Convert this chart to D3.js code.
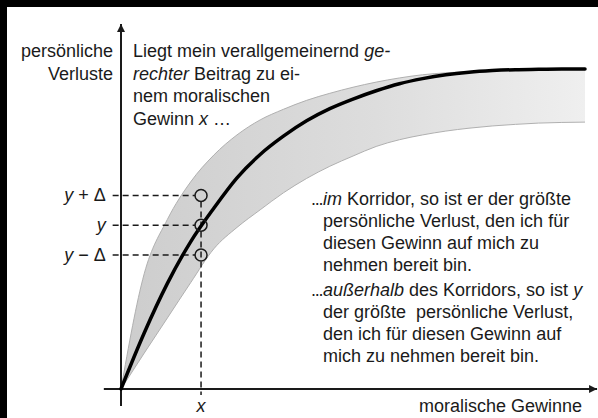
<!DOCTYPE html>
<html><head><meta charset="utf-8">
<script src="https://cdn.jsdelivr.net/npm/d3@7"></script>
<style>
html,body{margin:0;padding:0;background:#fff;}
svg{display:block;}
text{font-family:"Liberation Sans",Arial,Helvetica,sans-serif;fill:#1a1a1a;white-space:pre;}
</style></head>
<body>
<script>
// ---- data (abstract units) ----
const gains   = [0,0.5,1,1.5,2,2.5,3,3.5,4,4.5,5,5.5,6,6.5,7,7.5,8,8.5,9,9.5,10];
const centre  = [0,1.75,3.3,4.6,5.65,6.6,7.33,7.9,8.38,8.76,9.06,9.32,9.54,9.7,9.82,9.9,9.95,9.98,9.99,10,10];
const upperB  = [0,3.6,5.3,6.47,7.31,7.94,8.41,8.74,9.02,9.24,9.43,9.59,9.72,9.82,9.88,9.92,9.96,9.98,9.99,10,10];
const lowerB  = [0,1.12,2.22,3.32,4.38,5.05,5.6,6.13,6.58,6.96,7.28,7.58,7.79,7.94,8.06,8.15,8.22,8.27,8.31,8.33,8.34];
const markerX = 1.725;
const markerY = [6.05, 5.12, 4.19];
const markerLabels = [["y"," + Δ"],["y",""],["y"," − Δ"]];
const xAxisExtent = [-0.37, 10.26];
const yAxisExtent = [-0.53, 11.41];
const yAxisTitle = ["persönliche","Verluste"];
const xAxisTitle = "moralische Gewinne";
const introText = [
  [["Liegt mein verallgemeinernd ",false],["ge-",true]],
  [["rechter",true],[" Beitrag zu ei-",false]],
  [["nem moralischen",false]],
  [["Gewinn ",false],["x",true],[" …",false]]
];
const blockIn = [
  [["im",true],[" Korridor, so ist er der größte",false]],
  [["persönliche Verlust, den ich für",false]],
  [["diesen Gewinn auf mich zu",false]],
  [["nehmen bereit bin.",false]]
];
const blockOut = [
  [["außerhalb",true],[" des Korridors, so ist ",false],["y",true]],
  [["der größte  persönliche Verlust,",false]],
  [["den ich für diesen Gewinn auf",false]],
  [["mich zu nehmen bereit bin.",false]]
];

const W = 598, H = 418;
const svg = d3.select("body").append("svg").attr("width",W).attr("height",H);

// frame (top / left black edges)
svg.append("rect").attr("x",0).attr("y",0).attr("width",W).attr("height",7).attr("fill","#000");
svg.append("rect").attr("x",0).attr("y",0).attr("width",7).attr("height",H).attr("fill","#000");

const x = d3.scaleLinear().domain([0,10]).range([121,585]);
const y = d3.scaleLinear().domain([0,10]).range([389,69]);

const defs = svg.append("defs");
const grad = defs.append("linearGradient").attr("id","bandGrad")
  .attr("gradientUnits","userSpaceOnUse").attr("x1",x(0)).attr("x2",x(10)).attr("y1",0).attr("y2",0);
grad.append("stop").attr("offset","0%").attr("stop-color","#cdcdcd");
grad.append("stop").attr("offset","55%").attr("stop-color","#dddddd");
grad.append("stop").attr("offset","100%").attr("stop-color","#efefef");
defs.append("marker").attr("id","arrow").attr("viewBox","0 0 10 10").attr("refX",10).attr("refY",5)
  .attr("markerWidth",10).attr("markerHeight",8).attr("markerUnits","userSpaceOnUse").attr("orient","auto")
  .append("path").attr("d","M0,0L10,5L0,10Z").attr("fill","#1a1a1a");

const pts = gains.map((g,i)=>({g, c:centre[i], u:upperB[i], l:lowerB[i]}));

// corridor band
svg.append("path").datum(pts)
  .attr("d", d3.area().x(d=>x(d.g)).y0(d=>y(d.l)).y1(d=>y(d.u)).curve(d3.curveMonotoneX))
  .attr("fill","url(#bandGrad)");
["u","l"].forEach(k=>{
  svg.append("path").datum(pts)
    .attr("d", d3.line().x(d=>x(d.g)).y(d=>y(d[k])).curve(d3.curveMonotoneX))
    .attr("fill","none").attr("stroke","#b0b0b0").attr("stroke-width",1);
});

// dashed guides
const dash = "6,4";
markerY.forEach(v=>{
  svg.append("line").attr("x1",x(-0.18)).attr("x2",x(markerX)-6).attr("y1",y(v)).attr("y2",y(v))
    .attr("stroke","#1a1a1a").attr("stroke-width",1.5).attr("stroke-dasharray",dash);
});
svg.append("line").attr("x1",x(markerX)).attr("x2",x(markerX))
  .attr("y1",y(d3.max(markerY))+6).attr("y2",y(-0.19))
  .attr("stroke","#1a1a1a").attr("stroke-width",1.5).attr("stroke-dasharray",dash);

// axes
svg.append("line").attr("x1",x(xAxisExtent[0])).attr("x2",x(xAxisExtent[1])).attr("y1",y(0)).attr("y2",y(0))
  .attr("stroke","#1a1a1a").attr("stroke-width",2).attr("marker-end","url(#arrow)");
svg.append("line").attr("x1",x(0)).attr("x2",x(0)).attr("y1",y(yAxisExtent[0])).attr("y2",y(yAxisExtent[1]))
  .attr("stroke","#1a1a1a").attr("stroke-width",2).attr("marker-end","url(#arrow)");

// centre curve
svg.append("path").datum(pts)
  .attr("d", d3.line().x(d=>x(d.g)).y(d=>y(d.c)).curve(d3.curveMonotoneX))
  .attr("fill","none").attr("stroke","#000").attr("stroke-width",3.5).attr("stroke-linecap","round");

// circles
markerY.forEach(v=>{
  svg.append("circle").attr("cx",x(markerX)).attr("cy",y(v)).attr("r",6)
    .attr("fill","none").attr("stroke","#1a1a1a").attr("stroke-width",1.5);
});

const FS = 18;
function rich(parent, xp, yp, parts, anchor){
  const t = parent.append("text").attr("x",xp).attr("y",yp).attr("font-size",FS)
    .attr("text-anchor",anchor||"start");
  parts.forEach(([s,it])=>t.append("tspan").text(s).attr("font-style",it?"italic":"normal"));
  return t;
}

// marker labels
markerY.forEach((v,i)=>{
  rich(svg, x(-0.33), y(v)+6, [[markerLabels[i][0],true],[markerLabels[i][1],false]], "end");
});
rich(svg, x(markerX), 412, [["x",true]], "middle");

// axis titles
yAxisTitle.forEach((s,i)=>{
  svg.append("text").attr("x",113).attr("y",57+i*23).attr("font-size",FS).attr("text-anchor","end").text(s);
});
svg.append("text").attr("x",582).attr("y",412).attr("font-size",FS).attr("text-anchor","end").text(xAxisTitle);

// text blocks
introText.forEach((ln,i)=>rich(svg,133,57+i*22.5,ln));
function block(lines, top){
  svg.append("text").attr("x",311).attr("y",top).attr("font-size",FS)
    .attr("letter-spacing","-1.3").text("...");
  lines.forEach((ln,i)=>rich(svg,323,top+i*22,ln));
}
block(blockIn, 205);
block(blockOut, 296);
</script>
</body></html>
